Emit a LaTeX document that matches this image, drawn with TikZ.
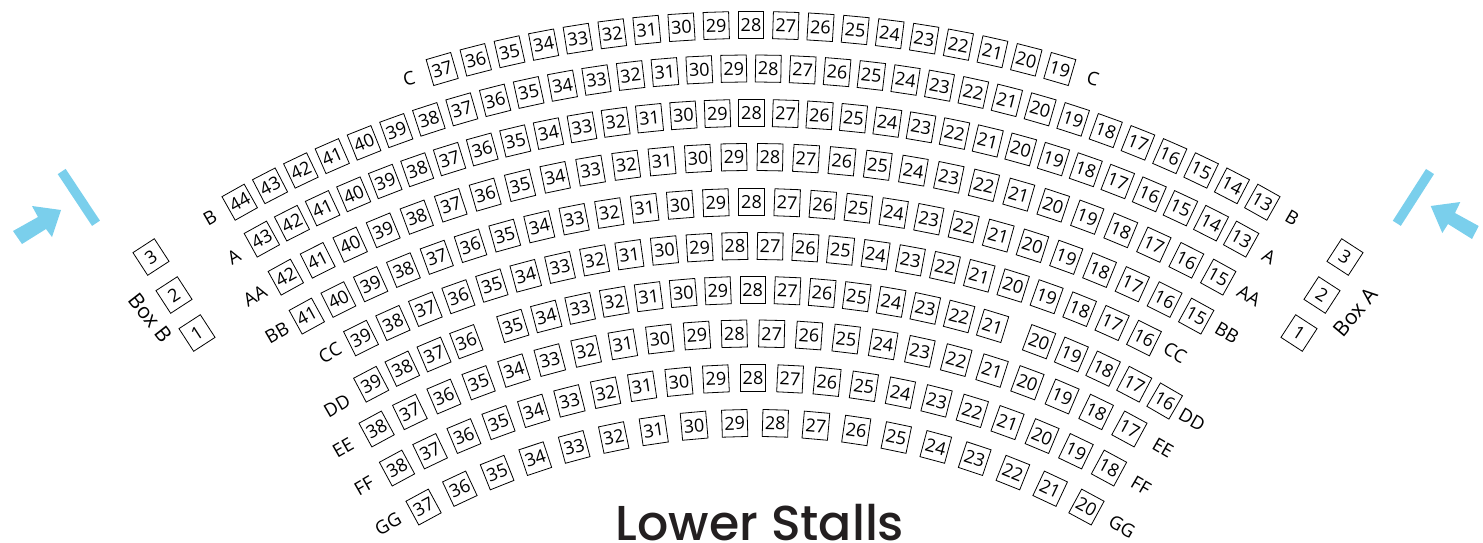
\documentclass[tikz,border=0pt]{standalone}
\usepackage{fontspec}
\setmainfont{Open Sans}
\newfontfamily\titlefont{Poppins Medium}
\definecolor{exitblue}{HTML}{7ACFEC}
\definecolor{titleink}{HTML}{231F20}
\begin{document}
\begin{tikzpicture}[
        x=1pt, y=-1pt,
        seat/.style={
            rectangle, draw=black, line width=0.8pt, fill=white,
            minimum width=25.5pt, minimum height=27pt, inner sep=0pt,
            font=\fontsize{18}{18}\selectfont
        },
        rowlabel/.style={font=\fontsize{18.5}{18.5}\selectfont, inner sep=0pt},
        boxlabel/.style={font=\fontsize{21}{21}\selectfont, inner sep=0pt},
        exitbar/.style={draw=exitblue, line width=9.5pt},
        exitarrow/.style={fill=exitblue}
    ]

    \useasboundingbox (0,0) rectangle (1483,542);

    % --- Seats ---
    \foreach \rowname/\rowrad/\cx/\cy/\midseat/\stepang/\low/\high/\offset in {
        C/1107/751/25/28/1.8/19/37/0,
        B/1045/751/68.5/28.5/1.89/13/44/0,
        A/1014/751.5/113/28/1.925/13/43/0,
        AA/965/752/157/28.5/2.14/15/42/0,
        BB/924/751.5/202/28/2.213/15/41/0,
        CC/879/752.5/246/27.5/2.3/16/39/0,
        DD/820/752.7/290/28/2.43/36/39/1,
        DD/820/752.7/290/28/2.43/21/35/0,
        DD/820/752.7/290/28/2.43/16/20/-1,
        EE/790/753/333.5/27.5/2.71/17/38/0,
        FF/749/753/378/28/2.838/18/38/0,
        GG/696/755/423/28.5/3.346/20/37/0} {
        \foreach \seatnum in {\low,...,\high} {
            \pgfmathsetmacro\ang{(\seatnum-\midseat)*\stepang+\offset}
            \node[seat, rotate=\ang] (\rowname-\seatnum)
                at ({\cx-\rowrad*sin(\ang)},{\cy+\rowrad*(1-cos(\ang))}) {\seatnum};
        }
    }

    % --- Row labels ---
    \foreach \rowname/\xl/\yl/\rl/\xr/\yr/\rr in {
        C/409/79/15/1093/79/-15,
        B/210/218/30/1292/218/-30,
        A/234/257/30/1269/257/-30,
        AA/255/296/30/1249/296/-30,
        BB/277/333/30/1227/333/-30,
        CC/330/353/30/1175/353/-30,
        DD/337/406/30/1192/420/-30,
        EE/343/448/30/1163/448/-30,
        FF/364/486/30/1141/486/-30,
        GG/388/524/30/1122/527/-30} {
        \node[rowlabel, rotate=\rl] (left-\rowname) at (\xl,\yl) {\rowname};
        \node[rowlabel, rotate=\rr] (right-\rowname) at (\xr,\yr) {\rowname};
    }

    % --- Boxes ---
    \foreach \seatnum/\xl/\xr/\yb in {3/151/1345/257, 2/174/1322/295, 1/197/1299/333} {
        \node[seat, rotate=33] (boxb-\seatnum) at (\xl,\yb) {\seatnum};
        \node[seat, rotate=-33] (boxa-\seatnum) at (\xr,\yb) {\seatnum};
    }
    \node[boxlabel, rotate=-52] (boxb) at (150,318) {Box B};
    \node[boxlabel, rotate=50] (boxa) at (1355,312) {Box A};

    % --- Entrances ---
    \draw[exitbar] (61.7,171.5) -- (96,223.3);
    \draw[exitbar] (1430,171.5) -- (1396.8,223.3);
    \fill[exitarrow] (61,210) -- (32,206) -- (38,217) -- (13,231) -- (22,244)
        -- (46,229) -- (52,237) -- cycle;
    \fill[exitarrow] (1430.7,206) -- (1460.3,202) -- (1455,213) -- (1478.7,226) -- (1472,239)
        -- (1448,224) -- (1442.3,233) -- cycle;

    % --- Title ---
    \node[font=\titlefont\fontsize{49}{49}\selectfont, text=titleink, anchor=base, inner sep=0pt] (title) at (760,540.5) {Lower Stalls};

\end{tikzpicture}
\end{document}
